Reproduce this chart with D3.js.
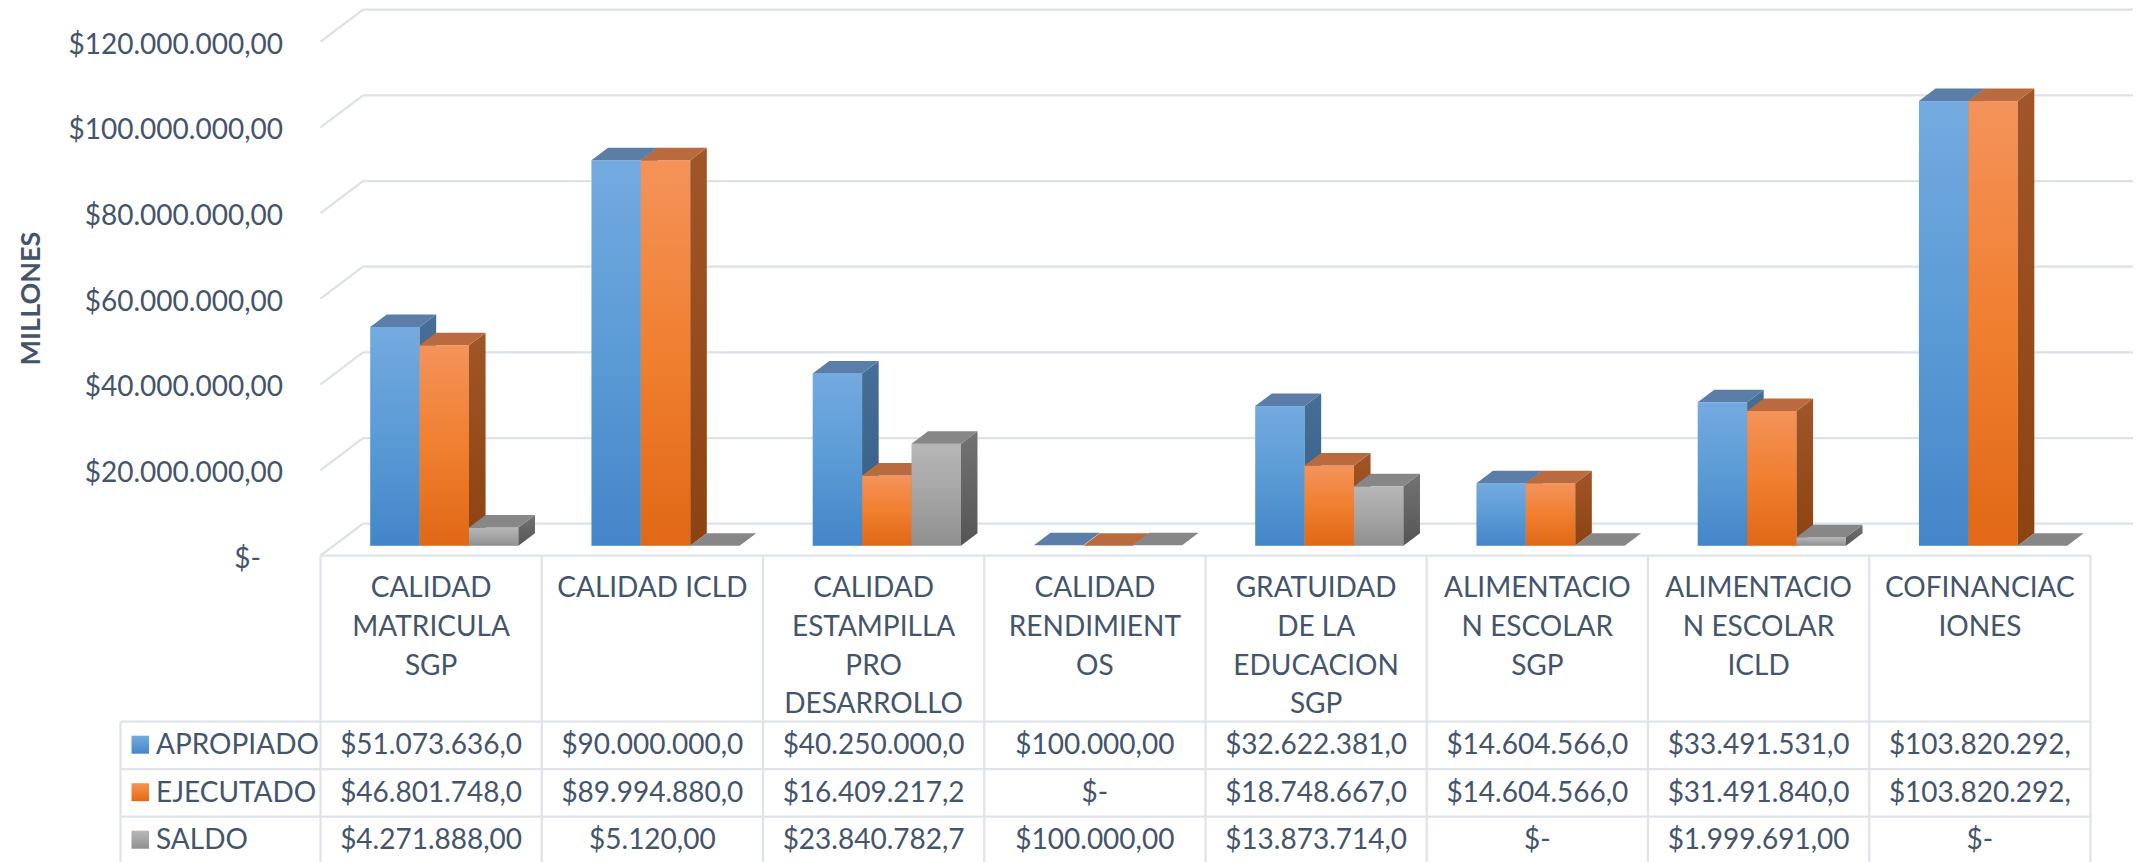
<!DOCTYPE html>
<html>
<head>
<meta charset="utf-8">
<script src="https://cdn.jsdelivr.net/npm/d3@7"></script>
<style>
  html, body { margin: 0; padding: 0; background: #ffffff; }
  svg { display: block; }
  text { font-family: Lato, "Open Sans", sans-serif; fill: #44546A; }
</style>
</head>
<body>
<svg id="chart" width="2144" height="862"></svg>
<script>
// ---------------- data ----------------
const categories = [
  "CALIDAD MATRICULA SGP", "CALIDAD ICLD", "CALIDAD ESTAMPILLA PRO DESARROLLO",
  "CALIDAD RENDIMIENTOS", "GRATUIDAD DE LA EDUCACION SGP", "ALIMENTACION ESCOLAR SGP",
  "ALIMENTACION ESCOLAR ICLD", "COFINANCIACIONES"
];
const categoryLines = [
  ["CALIDAD", "MATRICULA", "SGP"],
  ["CALIDAD ICLD"],
  ["CALIDAD", "ESTAMPILLA", "PRO", "DESARROLLO"],
  ["CALIDAD", "RENDIMIENT", "OS"],
  ["GRATUIDAD", "DE LA", "EDUCACION", "SGP"],
  ["ALIMENTACIO", "N ESCOLAR", "SGP"],
  ["ALIMENTACIO", "N ESCOLAR", "ICLD"],
  ["COFINANCIAC", "IONES"]
];
const seriesNames = ["APROPIADO", "EJECUTADO", "SALDO"];
const apropiado = [51073636, 90000000, 40250000, 100000, 32622381, 14604566, 33491531, 103820292];
const ejecutado = [46801748, 89994880, 16409217.25, 0, 18748667, 14604566, 31491840, 103820292];
const saldo     = [4271888, 5120, 23840782.75, 100000, 13873714, 0, 1999691, 0];
const yTicks = [0, 20000000, 40000000, 60000000, 80000000, 100000000, 120000000];
const axisTitle = "MILLONES";

// ---------------- setup ----------------
const seriesValues = [apropiado, ejecutado, saldo];
const svg = d3.select("#chart");
const defs = svg.append("defs");

const locale = d3.formatLocale({decimal: ",", thousands: ".", grouping: [3], currency: ["$", ""]});
const money = locale.format("$,.2f");
const fmt = v => v === 0 ? "$-" : money(v);

const x = d3.scaleBand().domain(categories).range([320.5, 2090.5]).padding(0);
const y = d3.scaleLinear().domain([0, 120000000]).range([555.7, 41.7]);
const D = {x: 42.5, y: -32};           // depth vector (front floor -> back wall)
const f0 = 0.31, f1 = 0.70;             // bar front/back depth fractions
const barW = 49.4;
const inner = d3.scaleBand().domain(seriesNames)
  .range([x.bandwidth() / 2 - 1.5 * barW, x.bandwidth() / 2 + 1.5 * barW]).padding(0);

const styles = [
  {front: ["#74aae0", "#5b9bd5", "#4485c9"], top: "#5a7ea8", side: ["#466f98", "#335c86"]},
  {front: ["#f4935a", "#f07f30", "#e06816"], top: "#b96a3e", side: ["#a05628", "#8d4211"]},
  {front: ["#b7b7b7", "#a5a5a5", "#8f8f8f"], top: "#878787", side: ["#737373", "#555555"]}
];
styles.forEach((s, i) => {
  const g1 = defs.append("linearGradient").attr("id", "front" + i)
    .attr("x1", 0).attr("y1", 0).attr("x2", 0).attr("y2", 1);
  g1.append("stop").attr("offset", "0%").attr("stop-color", s.front[0]);
  g1.append("stop").attr("offset", "50%").attr("stop-color", s.front[1]);
  g1.append("stop").attr("offset", "100%").attr("stop-color", s.front[2]);
  const g2 = defs.append("linearGradient").attr("id", "side" + i)
    .attr("x1", 0).attr("y1", 0).attr("x2", 0).attr("y2", 1);
  g2.append("stop").attr("offset", "0%").attr("stop-color", s.side[0]);
  g2.append("stop").attr("offset", "100%").attr("stop-color", s.side[1]);
});

const gridColor = "#dde1e8";

// ---------------- gridlines (back wall + left wall) ----------------
const grid = svg.append("g");
yTicks.forEach(t => {
  const yf = y(t);
  grid.append("line")
    .attr("x1", x.range()[0] + D.x).attr("y1", yf + D.y)
    .attr("x2", x.range()[1] + D.x).attr("y2", yf + D.y)
    .attr("stroke", gridColor).attr("stroke-width", 2.2);
  grid.append("line")
    .attr("x1", x.range()[0]).attr("y1", yf)
    .attr("x2", x.range()[0] + D.x).attr("y2", yf + D.y)
    .attr("stroke", gridColor).attr("stroke-width", 2.2);
});

// ---------------- y axis labels ----------------
const yAxis = d3.axisLeft(y).tickValues(yTicks).tickSize(0).tickPadding(0).tickFormat(fmt);
const yg = svg.append("g").attr("transform", "translate(283,0)").call(yAxis);
yg.select(".domain").remove();
yg.selectAll("text")
  .attr("font-family", "Lato, 'Open Sans', sans-serif")
  .attr("font-size", 28).attr("fill", "#44546A")
  .attr("dy", null).attr("y", 11.5)
  .attr("x", d => d === 0 ? -22 : 0);

svg.append("text")
  .attr("transform", "translate(40,298.5) rotate(-90)")
  .attr("text-anchor", "middle")
  .attr("font-size", 27).attr("font-weight", "bold")
  .text(axisTitle);

// ---------------- bars ----------------
const bars = svg.append("g");
const y0 = y(0);
categories.forEach((c, ci) => {
  seriesNames.forEach((s, si) => {
    const v = seriesValues[si][ci];
    const xl = x(c) + inner(s);
    const xr = xl + inner.bandwidth();
    const yt = y(v);
    const g = bars.append("g");
    const ax = f0 * D.x, ay = f0 * D.y, bx = f1 * D.x, by = f1 * D.y;
    if (yt < y0 - 0.5) {
      g.append("rect")
        .attr("x", xl + ax).attr("y", yt + ay)
        .attr("width", xr - xl).attr("height", y0 - yt)
        .attr("fill", `url(#front${si})`);
      g.append("path")
        .attr("d", `M${xr + ax},${yt + ay}L${xr + bx},${yt + by}L${xr + bx},${y0 + by}L${xr + ax},${y0 + ay}Z`)
        .attr("fill", `url(#side${si})`);
    }
    g.append("path")
      .attr("d", `M${xl + ax},${yt + ay}L${xr + ax},${yt + ay}L${xr + bx},${yt + by}L${xl + bx},${yt + by}Z`)
      .attr("fill", styles[si].top);
  });
});

// ---------------- data table ----------------
const tbl = svg.append("g");
const rowTop = 721.7, rowH = 47.5;
const lineC = "#dfe3ea";
const xs = x.range();
// top floor / table line
tbl.append("line").attr("x1", xs[0]).attr("x2", xs[1]).attr("y1", y0).attr("y2", y0)
  .attr("stroke", lineC).attr("stroke-width", 2.2);
// vertical lines
categories.forEach(c => {
  tbl.append("line").attr("x1", x(c)).attr("x2", x(c)).attr("y1", y0).attr("y2", 870)
    .attr("stroke", lineC).attr("stroke-width", 2.2);
});
tbl.append("line").attr("x1", xs[1]).attr("x2", xs[1]).attr("y1", y0).attr("y2", 870)
  .attr("stroke", lineC).attr("stroke-width", 2.2);
tbl.append("line").attr("x1", 120.5).attr("x2", 120.5).attr("y1", rowTop).attr("y2", 870)
  .attr("stroke", lineC).attr("stroke-width", 2.2);
for (let r = 0; r < 3; r++) {
  tbl.append("line").attr("x1", 120.5).attr("x2", xs[1])
    .attr("y1", rowTop + r * rowH).attr("y2", rowTop + r * rowH)
    .attr("stroke", lineC).attr("stroke-width", 2.2);
}
// category header text
categories.forEach((c, ci) => {
  const t = tbl.append("text").attr("text-anchor", "middle").attr("font-size", 28);
  categoryLines[ci].forEach((ln, li) => {
    t.append("tspan").attr("x", x(c) + x.bandwidth() / 2).attr("y", 596.7 + li * 38.9).text(ln);
  });
});
// legend keys + row labels
seriesNames.forEach((s, si) => {
  const yb = rowTop + si * rowH;
  tbl.append("rect").attr("x", 131.5).attr("y", yb + 14).attr("width", 17.5).attr("height", 18)
    .attr("fill", `url(#front${si})`);
  tbl.append("text").attr("x", 156).attr("y", yb + 32.3).attr("font-size", 28).text(s);
});
// values
const maxW = 196;
seriesNames.forEach((s, si) => {
  categories.forEach((c, ci) => {
    let str = fmt(seriesValues[si][ci]);
    const t = tbl.append("text").attr("text-anchor", "middle")
      .attr("x", x(c) + x.bandwidth() / 2).attr("y", rowTop + si * rowH + 32.3)
      .attr("font-size", 28).text(str);
    while (t.node().getComputedTextLength() > maxW && str.length > 1) {
      str = str.slice(0, -1);
      t.text(str);
    }
  });
});
</script>
</body>
</html>
